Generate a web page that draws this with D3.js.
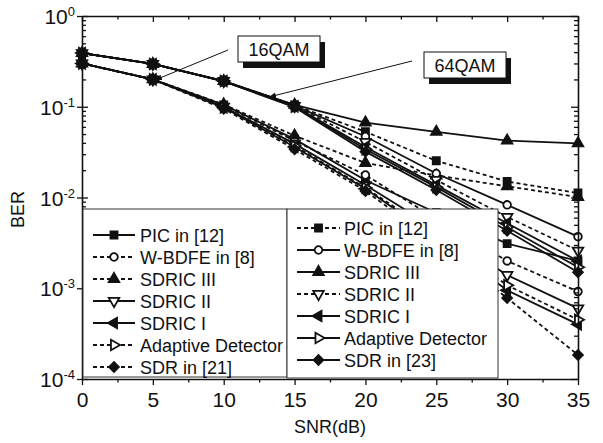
<!DOCTYPE html>
<html>
<head>
<meta charset="utf-8">
<script src="https://cdn.jsdelivr.net/npm/d3@7"></script>
<style>
  body { margin: 0; background: #fff; }
  svg { font-family: Arial, "Liberation Sans", sans-serif; }
</style>
</head>
<body>
<div class="chart"></div>
<script>
// SNR points (dB)
const snr = [0, 5, 10, 15, 20, 25, 30, 35];

// legend labels
const names16 = ["PIC in [12]", "W-BDFE in [8]", "SDRIC III", "SDRIC II", "SDRIC I", "Adaptive Detector", "SDR in [21]"];
const names64 = ["PIC in [12]", "W-BDFE in [8]", "SDRIC III", "SDRIC II", "SDRIC I", "Adaptive Detector", "SDR in [23]"];

// 16QAM curves
const pic16      = [0.30, 0.20, 0.105, 0.044, 0.0155, 0.0068, 0.0031, 0.0020];
const wbdfe16    = [0.30, 0.20, 0.104, 0.042, 0.0177, 0.0058, 0.0020, 0.00092];
const sdric3_16  = [0.30, 0.20, 0.106, 0.048, 0.024, 0.0175, 0.0133, 0.0101];
const sdric2_16  = [0.30, 0.20, 0.100, 0.039, 0.0137, 0.0045, 0.0014, 0.00060];
const sdric1_16  = [0.30, 0.20, 0.098, 0.036, 0.0125, 0.0036, 0.00095, 0.00040];
const adaptive16 = [0.30, 0.20, 0.098, 0.037, 0.0128, 0.0039, 0.00108, 0.00045];
const sdr16      = [0.30, 0.20, 0.095, 0.034, 0.0118, 0.0032, 0.00078, 0.000184];

// 64QAM curves
const pic64      = [0.39, 0.296, 0.192, 0.104, 0.053, 0.0254, 0.0150, 0.0112];
const wbdfe64    = [0.39, 0.296, 0.192, 0.103, 0.047, 0.0184, 0.0083, 0.0037];
const sdric3_64  = [0.39, 0.296, 0.192, 0.105, 0.067, 0.053, 0.0423, 0.0395];
const sdric2_64  = [0.39, 0.296, 0.192, 0.102, 0.041, 0.0156, 0.0061, 0.0026];
const sdric1_64  = [0.39, 0.296, 0.192, 0.101, 0.036, 0.0137, 0.0052, 0.0020];
const adaptive64 = [0.39, 0.296, 0.192, 0.100, 0.034, 0.0130, 0.0047, 0.0017];
const sdr64      = [0.39, 0.296, 0.190, 0.099, 0.032, 0.0121, 0.0043, 0.0015];

const xTicks = [0, 5, 10, 15, 20, 25, 30, 35];
const yTicks = [1, 0.1, 0.01, 0.001, 0.0001];
const yExps = ["0", "-1", "-2", "-3", "-4"];

// styles per row (marker, filled, dashed)
const markers = ["square", "circle", "up", "down", "left", "right", "diamond"];
const filled = [true, false, true, false, true, false, true];
const dash16 = [false, true, true, false, false, true, true];
const dash64 = [true, false, false, true, false, false, false];

const W = 603, H = 443;
const m = { left: 82, top: 16, right: 25, bottom: 64 };
const w = W - m.left - m.right;
const h = H - m.top - m.bottom;

const svg = d3.select(".chart").append("svg")
  .attr("width", W).attr("height", H);

const x = d3.scaleLinear().domain([0, 35]).range([m.left, m.left + w]);
const y = d3.scaleLog().domain([1e-4, 1]).range([m.top + h, m.top]);

const series16 = [pic16, wbdfe16, sdric3_16, sdric2_16, sdric1_16, adaptive16, sdr16]
  .map((vals, i) => ({ name: names16[i], vals, marker: markers[i], filled: filled[i], dashed: dash16[i] }));
const series64 = [pic64, wbdfe64, sdric3_64, sdric2_64, sdric1_64, adaptive64, sdr64]
  .map((vals, i) => ({ name: names64[i], vals, marker: markers[i], filled: filled[i], dashed: dash64[i] }));

function symbolPath(kind) {
  const sym = {
    square: [d3.symbolSquare, 50, 0],
    circle: [d3.symbolCircle, 46, 0],
    up: [d3.symbolTriangle, 48, 0],
    down: [d3.symbolTriangle, 48, 180],
    left: [d3.symbolTriangle, 48, -90],
    right: [d3.symbolTriangle, 48, 90],
    diamond: [d3.symbolSquare, 48, 45]
  }[kind];
  return { d: d3.symbol().type(sym[0]).size(sym[1])(), rot: sym[2] };
}

function drawMarker(g, kind, isFilled, cx, cy) {
  const s = symbolPath(kind);
  g.append("path")
    .attr("d", s.d)
    .attr("transform", `translate(${cx},${cy}) rotate(${s.rot})`)
    .attr("fill", isFilled ? "#111" : "#fff")
    .attr("stroke", "#111")
    .attr("stroke-width", 1.8);
}

const line = d3.line().x((d, i) => x(snr[i])).y(d => y(d));

const plot = svg.append("g");
[...series16, ...series64].forEach(s => {
  plot.append("path")
    .attr("d", line(s.vals))
    .attr("fill", "none")
    .attr("stroke", "#111")
    .attr("stroke-width", 1.8)
    .attr("stroke-dasharray", s.dashed ? "4,3" : null);
});
[...series16, ...series64].forEach(s => {
  s.vals.forEach((v, i) => drawMarker(plot, s.marker, s.filled, x(snr[i]), y(v)));
});

// minor log ticks
const minorY = [];
[1e-4, 1e-3, 1e-2, 1e-1].forEach(p => { for (let k = 2; k <= 9; k++) minorY.push(p * k); });
const minorX = [2.5, 7.5, 12.5, 17.5, 22.5, 27.5, 32.5];

// axes
const axisStyle = g => {
  g.selectAll("path.domain").attr("stroke", "#111").attr("stroke-width", 1.6);
  g.selectAll(".tick line").attr("stroke", "#111").attr("stroke-width", 1.3);
};

// bottom
svg.append("g").attr("transform", `translate(0,${m.top + h})`)
  .call(d3.axisBottom(x).tickValues(xTicks).tickSize(6).tickSizeOuter(0))
  .call(axisStyle)
  .call(g => g.selectAll("text").attr("font-size", 21).attr("fill", "#111").attr("dy", "0.9em"));
svg.append("g").attr("transform", `translate(0,${m.top + h})`)
  .call(d3.axisBottom(x).tickValues(minorX).tickSize(3.5).tickFormat(""))
  .call(axisStyle).call(g => g.select(".domain").remove());

// top (inward)
svg.append("g").attr("transform", `translate(0,${m.top})`)
  .call(d3.axisBottom(x).tickValues(xTicks).tickSize(6).tickSizeOuter(0).tickFormat(""))
  .call(axisStyle);
svg.append("g").attr("transform", `translate(0,${m.top})`)
  .call(d3.axisBottom(x).tickValues(minorX).tickSize(3.5).tickFormat(""))
  .call(axisStyle).call(g => g.select(".domain").remove());

// left
svg.append("g").attr("transform", `translate(${m.left},0)`)
  .call(d3.axisLeft(y).tickValues(yTicks).tickSize(5).tickSizeOuter(0).tickFormat(""))
  .call(axisStyle);
svg.append("g").attr("transform", `translate(${m.left},0)`)
  .call(d3.axisRight(y).tickValues(yTicks).tickSize(6).tickFormat(""))
  .call(axisStyle).call(g => g.select(".domain").remove());
svg.append("g").attr("transform", `translate(${m.left},0)`)
  .call(d3.axisRight(y).tickValues(minorY).tickSize(4).tickFormat(""))
  .call(axisStyle).call(g => g.select(".domain").remove());

// right (inward)
svg.append("g").attr("transform", `translate(${m.left + w},0)`)
  .call(d3.axisLeft(y).tickValues(yTicks).tickSize(7).tickSizeOuter(0).tickFormat(""))
  .call(axisStyle);
svg.append("g").attr("transform", `translate(${m.left + w},0)`)
  .call(d3.axisLeft(y).tickValues(minorY).tickSize(4).tickFormat(""))
  .call(axisStyle).call(g => g.select(".domain").remove());

// y tick labels 10^n
const yl = svg.append("g");
yTicks.forEach((t, i) => {
  const txt = yl.append("text")
    .attr("x", 75).attr("y", y(t) + 8)
    .attr("text-anchor", "end").attr("fill", "#111");
  txt.append("tspan").attr("font-size", 21).text("10");
  txt.append("tspan").attr("font-size", 13).attr("dy", -8).text(yExps[i]);
});

// axis titles
svg.append("text")
  .attr("x", m.left + w / 2).attr("y", 433)
  .attr("text-anchor", "middle").attr("font-size", 18).attr("fill", "#111")
  .text("SNR(dB)");
svg.append("text")
  .attr("transform", `translate(24,${y(0.01) + 12}) rotate(-90)`)
  .attr("text-anchor", "middle").attr("font-size", 18).attr("fill", "#111")
  .text("BER");

// legends
function legend(series, box, lineX0, lineX1, textX, rowY0) {
  const g = svg.append("g");
  g.append("rect")
    .attr("x", box[0]).attr("y", box[1])
    .attr("width", box[2]).attr("height", box[3])
    .attr("fill", "#fff").attr("stroke", "#333").attr("stroke-width", 1);
  series.forEach((s, i) => {
    const ry = rowY0 + i * 22;
    g.append("line")
      .attr("x1", lineX0).attr("x2", lineX1).attr("y1", ry).attr("y2", ry)
      .attr("stroke", "#111").attr("stroke-width", 1.8)
      .attr("stroke-dasharray", s.dashed ? "4,3" : null);
    drawMarker(g, s.marker, s.filled, (lineX0 + lineX1) / 2, ry);
    g.append("text")
      .attr("x", textX).attr("y", ry + 6.5)
      .attr("font-size", 18).attr("fill", "#111")
      .text(s.name);
  });
}
legend(series16, [83, 209, 204, 168], 93, 135, 140, 235);
legend(series64, [287, 209, 211, 169], 297, 340, 344, 228);

// annotations
svg.append("defs").append("marker")
  .attr("id", "arr").attr("viewBox", "0 0 10 10")
  .attr("refX", 10).attr("refY", 5)
  .attr("markerWidth", 7).attr("markerHeight", 7)
  .attr("orient", "auto")
  .append("path").attr("d", "M0,1 L10,5 L0,9 Z").attr("fill", "#111");

function callout(label, bx, by, bw, bh, from, to) {
  svg.append("line")
    .attr("x1", from[0]).attr("y1", from[1]).attr("x2", to[0]).attr("y2", to[1])
    .attr("stroke", "#111").attr("stroke-width", 1)
    .attr("marker-end", "url(#arr)");
  svg.append("rect").attr("x", bx + 5).attr("y", by + 6)
    .attr("width", bw).attr("height", bh).attr("fill", "#111");
  svg.append("rect").attr("x", bx).attr("y", by)
    .attr("width", bw).attr("height", bh)
    .attr("fill", "#fff").attr("stroke", "#111").attr("stroke-width", 1);
  svg.append("text").attr("x", bx + bw / 2).attr("y", by + bh / 2 + 6.5)
    .attr("text-anchor", "middle").attr("font-size", 18).attr("fill", "#111")
    .text(label);
}
callout("16QAM", 238, 36, 82, 26, [228, 50], [155, 80]);
callout("64QAM", 424, 52, 82, 26, [412, 61], [269, 97]);
</script>
</body>
</html>
